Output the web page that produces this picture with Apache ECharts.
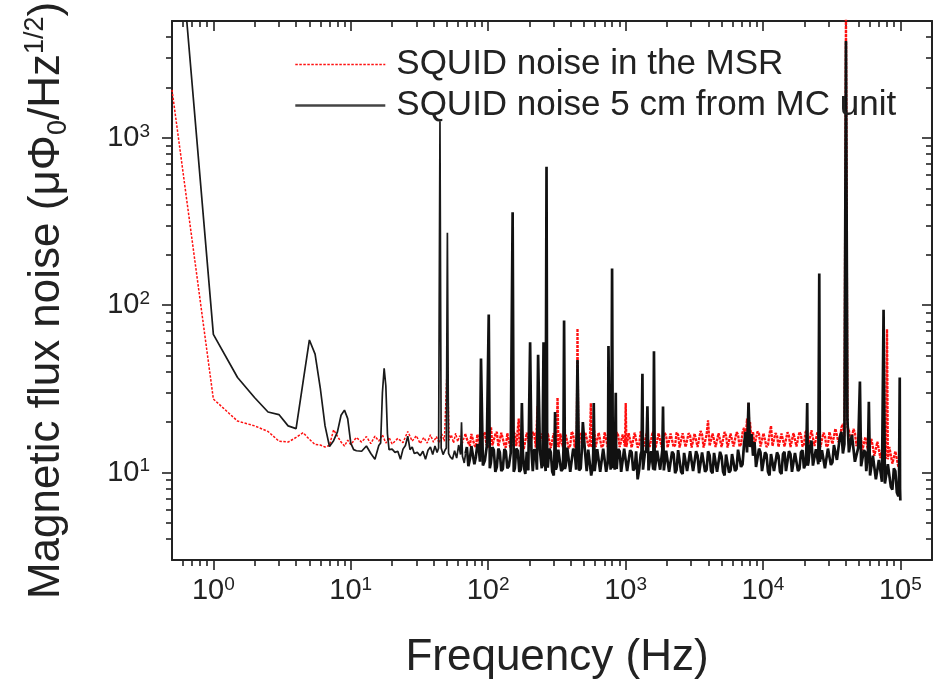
<!DOCTYPE html>
<html><head><meta charset="utf-8">
<script src="https://cdn.jsdelivr.net/npm/echarts@6/dist/echarts.min.js"></script>
<style>html,body{margin:0;padding:0;background:#fff}#c{width:939px;height:684px}</style>
</head><body><div id="c"></div>
<script>
// ---- data (frequency Hz, noise µΦ0/Hz^1/2) ----
const seriesNames = ['SQUID noise in the MSR', 'SQUID noise 5 cm from MC unit'];

const msrLow = [[0.5,1940],[1,27.5],[1.5,20.3],[2,19],[2.5,17.6],[3,15.4],[3.5,15.2],[4,16.2],[4.5,17.3],[5,15.8],[5.5,14.7],[6,14.6],[6.5,14.2],[7,14.5],[7.5,18],[8,16.5],[8.5,15.2],[9,14.4],[9.5,15.6],[10,14.7],[11,16.2],[12,15.2],[13,16.4],[14,14.9],[15,16.5],[16,15.4],[17,16.8],[18,15],[19,16.2],[20,14.8],[22,16],[24,15.1],[26,17.6],[28,15.4],[30,16.6],[32,14.9],[34,16.2],[36,15],[38,16.8],[40,15.2],[42,16.4],[44,15],[46,17],[48,15.4],[50.5,47],[52,15.6],[54,16.8],[56,15],[58,17.2],[60,15.3],[62,16.6],[65,15],[68,17]];

const msrBand = [[71.8,15],[73.6,14.4],[75.5,17],[77.4,17.3],[79.4,14.6],[81.4,14.2],[83.5,16.9],[85.6,17.2],[87.8,14.2],[90,14.5],[92.3,16.8],[94.6,17.4],[97,14.8],[99.5,14.1],[102,16.9],[105,18.6],[107.3,14.5],[110,14.2],[112.8,16.9],[115.7,17.5],[118.6,14.3],[121.6,14.6],[124.7,17.3],[127.9,17.1],[131.2,14.6],[134.5,14.1],[137.9,17.2],[141.4,16.8],[145,14.1],[148.7,14.5],[152.5,17.6],[156.3,17.0],[160.3,14.4],[163.5,14.2],[167,21],[169.5,14.3],[172,14.8],[174.6,17.2],[177.2,16.9],[181.7,13.8],[186.4,14],[191.1,17.3],[196,17.1],[201,14.2],[206,14.5],[211.3,17.5],[216.7,16.9],[222.2,14.1],[229,25],[234,14.4],[239.5,14.2],[245.6,17.1],[251.9,17.4],[258.3,14.1],[264.8,14.7],[271.6,17.2],[278.5,16.8],[285.6,14.0],[292.8,14.3],[300.3,17.2],[307.9,17],[314,14.3],[320,28],[325,14.2],[330,14.6],[335,17.1],[340.4,17.4],[349.1,14.2],[357.9,14.1],[367,16.8],[376.3,17.2],[385.9,14.0],[395.7,14.5],[405.8,17.6],[416.1,16.9],[426.7,14.1],[437.5,14.3],[442,16.4],[447,72.6],[453,14.2],[460,16.6],[471.8,17.2],[483.7,14],[496.1,14.3],[508.7,17.4],[521.6,17.0],[534.9,14.6],[548.5,14.2],[559,26],[567,14.1],[575,14.4],[583,17.1],[591.3,17.8],[606.4,14.2],[621.8,14.3],[637.6,17.3],[653.8,16.9],[670.5,14.1],[687.5,14.6],[705,17.4],[722.9,17.3],[741.3,14.2],[760.1,14.2],[779.5,17.1],[799.3,17.6],[819.6,14.1],[840.4,14.5],[861.8,17.4],[883.7,16.7],[906.2,14.2],[929.2,14.1],[952.9,16.9],[977.1,17],[990,14.3],[1003,26],[1015,14.2],[1027,14.4],[1054,17.2],[1080,16.8],[1108,14.1],[1136,14.2],[1165,17.3],[1194,17.4],[1225,14.1],[1256,14.6],[1288,17.6],[1321,16.5],[1354,14.3],[1389,14],[1424,17.1],[1460,17.2],[1497,14.2],[1535,14.4],[1575,17.5],[1614,16.9],[1656,14.1],[1698,14.2],[1741,17.2],[1785,17.5],[1831,14.2],[1877,14.5],[1925,17.3],[1974,16.6],[2024,14.1],[2075,14.1],[2128,17.1],[2182,17.3],[2238,14.2],[2295,14.6],[2353,17.4],[2413,16.8],[2474,14.1],[2537,14.3],[2602,17.2],[2668,17.6],[2736,14.2],[2805,14.4],[2877,17.2],[2950,16.7],[3025,14.1],[3102,14],[3181,17.1],[3261,17.1],[3345,14.2],[3429,14.5],[3517,17.7],[3606,16.9],[3698,14.1],[3792,14.2],[3888,16.8],[3987,20.5],[4089,14.4],[4192,14.6],[4299,17.1],[4408,16.7],[4521,14.2],[4635,14.1],[4753,17.2],[4874,17.3],[4998,14.2],[5125,14.5],[5256,17.5],[5389,16.6],[5526,14.1],[5666,14.2],[5811,17.1],[5958,17.2],[6110,14.3],[6265,14.6],[6425,17.4],[6588,16.9],[6756,14.3],[6927,14.8],[7104,17.3],[7284,18.5],[7469,15.2],[7659,21],[7760,17],[7860,26],[7950,17.6],[8053,20],[8259,15.6],[8468,17.5],[8684,14.6],[8904,15],[9131,17.6],[9363,17],[9601,14.3],[9845,14.4],[10096,17.2],[10352,16.8],[10616,14.2],[10885,14.6],[11163,17],[11446,19],[11737,14.4],[12035,14.5],[12342,17.2],[12655,16.7],[12978,14.2],[13307,14.2],[13646,17.1],[13993,17.2],[14349,14.3],[14713,14.6],[15088,17.4],[15471,16.5],[15865,14.2],[16268,14.1],[16682,17.2],[17105,17],[17541,14.3],[17986,14.5],[18444,17.5],[18913,16.8],[19394,14.3],[19887,14.8],[20393,17.4],[20911,18],[21443,14.8],[21988,15.2],[22547,17.9],[23120,17.5],[23708,14.4],[24311,14.6],[24929,17.4],[25563,17.2],[26213,14.2],[26879,14.4],[27563,17.3],[28264,16.6],[28983,14.2],[29719,14.6],[30475,17.5],[31250,17.4],[32045,14.8],[32859,15.2],[33695,18.3],[34551,18],[35431,15.2],[36331,15.8],[37255,18.6],[38202,19.5],[39174,16.4],[40200,6000],[41191,18.8],[42238,18],[43313,15.4],[44414,16],[45543,18.2],[46701,17.4],[47889,14.4],[49106,14.3],[50355,16.9],[51635,16.4],[52948,13.6],[54294,13.8],[55675,16.3],[57090,16],[58542,13.2],[60030,13.4],[61557,15.9],[63122,15.6],[64728,12.6],[66373,12.8],[68061,15.3],[69791,15],[71566,12.2],[73385,12.4],[75251,15.1],[77164,14.6],[78600,12.1],[80000,72],[81138,12],[83202,14.2],[85317,14],[87487,11.3],[89710,11.4],[91993,13.4],[94330,13.2],[96730,10.8],[99188,10.5]];

const mcLow = [[0.5,55000],[1,67],[1.5,37],[2,28],[2.5,23],[3,22.2],[3.5,19],[4,18.3],[4.5,35],[5,62],[5.5,51],[6,32],[6.5,19],[7,14.3],[7.5,15.5],[8,17.5],[8.5,22],[9,23.6],[9.5,21],[10,15],[10.5,13.7],[11,13.5],[12,13.4],[13,14.4],[14,13],[15,12],[16,14.5],[16.5,15],[17,30],[17.5,42],[18,33],[18.5,17],[19,13.7],[20,13.8],[21,13.2],[22,13.4],[23,12],[24,13.8],[25,14.5],[26,16.5],[27,13.7],[28,14.2],[29,13],[30.5,13.2],[32,12.6],[33.5,13.4],[35,12],[36.5,13.6],[38,14.2],[39.5,12.8],[41,14.4],[42.5,13.2],[43.6,14],[44.6,1260],[45.5,14],[47,12.8],[48.5,13.6],[49.6,14],[50.5,271],[51.5,13],[53,12.4],[55,12],[57,13.5],[59,12.2],[61,14.6],[63,12.8],[64,20],[65,12.5],[67,11.4],[68.5,13]];

const mcBand = [[70,14.2],[71.8,10.9],[73.6,12],[75.5,14.4],[77.4,14.6],[79.4,11.2],[81.4,12.4],[83.5,14.8],[85.6,13.8],[87.2,11.6],[88.7,48],[91.6,11],[94.6,11.8],[97.8,14.4],[101,88],[102.8,10.6],[104.6,11.4],[107.3,14.2],[110,13.6],[112.8,10.1],[115.7,10.8],[118.6,13.9],[121.6,13.2],[124.7,10.2],[127.9,10.5],[131.2,13.8],[134.5,13.4],[137.9,10.6],[141.4,10.9],[146,13.1],[150.7,360],[153.5,10.1],[156.3,10.6],[160.3,13.9],[164.4,13.5],[168.6,10.1],[172.8,10.4],[176,26],[178.8,13.4],[181.7,10.9],[186.4,9.8],[191.1,13.3],[196,10.3],[202,60],[206.5,13.6],[211.3,10.2],[216.7,13.8],[222.2,13],[226.5,10.4],[231,50.6],[238,13.6],[245.6,10.6],[249,13.1],[253,60],[255.6,10.9],[258.3,11.8],[262,10.2],[266,673],[268.8,13.2],[271.6,10.7],[278.5,13.9],[285.6,13.2],[292.8,10.1],[300.3,9.6],[303.5,12.8],[307,23],[311,10.4],[315.7,10.8],[323.7,13.7],[332,13.6],[340.4,10.2],[349.1,10.5],[353,13.5],[357,81],[362,10.5],[367,11],[376.3,14.1],[385.9,13.8],[395.7,10.1],[405.8,10.3],[416.1,13.9],[426.7,13.2],[437,10.4],[447,47],[459,10.3],[471.8,10.6],[480,13.4],[489,20],[505,13.8],[521.6,10.2],[534.9,13.7],[548.5,13.4],[562.4,9.6],[576.7,10.8],[582,13.2],[587,26],[596,10.2],[606.4,10.4],[621.8,13.8],[637.6,13.5],[653.8,10.1],[670.5,10.2],[687.5,13.9],[705,13.8],[722.9,10.1],[741.3,11.4],[746,13.6],[751,57],[765,13.9],[779.5,10.4],[788,13.6],[798,166],[808,10.6],[819.6,13.9],[834,10.4],[849,30],[855,10.9],[861.8,10.5],[883.7,13.8],[906.2,13.4],[929.2,10.1],[952.9,10.3],[977.1,13.9],[1002,13.7],[1027,10.2],[1054,10.1],[1080,13.6],[1108,13.2],[1136,10.3],[1165,10.6],[1194,13.4],[1225,9.1],[1256,10.4],[1288,12.8],[1307,13.4],[1327,39],[1340,10.4],[1354,10.4],[1389,13.5],[1415,13.1],[1443,24.9],[1470,10.3],[1497,10.2],[1535,13.4],[1575,13.1],[1592,10.4],[1610,53],[1632,10.3],[1656,10.5],[1698,13.5],[1741,13.4],[1785,10.4],[1831,10.6],[1852,13.6],[1874,24.8],[1900,10.3],[1925,10.3],[1974,13.5],[2024,13.2],[2075,10.1],[2128,10],[2182,13.3],[2238,12.9],[2295,9.9],[2353,10.4],[2413,13.6],[2474,13.5],[2537,10.1],[2602,9.8],[2668,13.1],[2736,12.8],[2805,10.2],[2877,10.3],[2950,13.4],[3025,13.3],[3102,10.2],[3181,10.1],[3261,13.4],[3345,12.6],[3429,9.9],[3517,9.7],[3606,13.2],[3698,13],[3792,10.1],[3888,10.4],[3987,13.4],[4089,12.7],[4192,10.2],[4299,9.9],[4408,13.1],[4521,13.2],[4635,10.1],[4753,10.2],[4874,13.3],[4998,12.5],[5125,10.1],[5256,9.6],[5389,12.8],[5526,12.9],[5666,10],[5811,10.3],[5958,12.9],[6110,13.1],[6265,10.2],[6425,10.5],[6588,13.7],[6756,13.4],[6927,10.8],[7104,11.2],[7284,14.8],[7469,17.5],[7660,13.2],[7854,26.2],[8053,14.2],[8259,17],[8468,12.6],[8684,15.2],[8904,10.8],[9131,11],[9363,13.9],[9601,13.2],[9845,10.2],[10096,10.1],[10352,13.2],[10616,12.8],[10885,10.1],[11163,9.6],[11446,12.9],[11737,13],[12035,10.2],[12342,10.3],[12655,13.2],[12978,12.6],[13307,10.1],[13646,9.8],[13993,12.9],[14349,13.3],[14713,10.2],[15088,10.4],[15471,13.4],[15865,12.9],[16268,10.1],[16682,10],[17105,13.1],[17541,13.1],[17986,10.2],[18444,10.5],[18913,13.2],[19394,13.6],[19887,10.6],[20393,11.2],[20700,13.8],[21000,26],[21200,11],[21443,11.5],[21988,14.2],[22547,15.5],[23120,11],[23708,11],[24311,13.8],[24929,14],[25300,11.2],[25700,155],[25950,11.6],[26213,11.4],[26879,13.6],[27563,13.3],[28264,10.6],[28983,10.8],[29719,13.9],[30475,14],[31250,11.1],[32045,11.5],[32859,14.6],[33695,15],[34551,11.9],[35431,12.2],[36331,16.4],[37255,17.5],[38202,13],[39174,14.8],[40200,3800],[41191,20.7],[42238,13.2],[43313,13.5],[44414,16.8],[45543,17],[46701,11.6],[47889,11.8],[49300,14],[50800,35],[51800,10.9],[52948,10.8],[54294,13.6],[55675,13.2],[56500,10.2],[57300,10.4],[58100,12.8],[59000,26.5],[60200,9.6],[61557,9.8],[63122,12.6],[64728,12.4],[66373,9.1],[68061,9.2],[69791,11.9],[71566,11.8],[73500,8.8],[75500,94],[77200,8.6],[79127,8.5],[81138,11.2],[83202,11],[85317,8.2],[87487,7.9],[89710,10.6],[91993,10.2],[94330,7.6],[96730,7.2],[97900,9.8],[99000,37],[99500,8],[100000,6.8]];

const xRange = [0.5, 170000];
const yRange = [3, 5000];
const xMajorTicks = [1, 10, 100, 1000, 10000, 100000];
const xMinorTicks = [0.6,0.7,0.8,0.9, 2,3,4,5,6,7,8,9, 20,30,40,50,60,70,80,90, 200,300,400,500,600,700,800,900, 2000,3000,4000,5000,6000,7000,8000,9000, 20000,30000,40000,50000,60000,70000,80000,90000];
const yMajorTicks = [10, 100, 1000];
const yMinorTicks = [4,5,6,7,8,9, 20,30,40,50,60,70,80,90, 200,300,400,500,600,700,800,900, 2000,3000,4000];

const FONT = "'Liberation Sans', Arial, Helvetica, sans-serif";
const INK = '#222';
const lg = Math.log10;

function powLabel(v) {
  const e = Math.round(Math.log10(v));
  if (Math.abs(v / Math.pow(10, e) - 1) > 1e-6) return '';
  return '{b|10}{s|' + e + '}';
}
const labelRich = {
  b: { fontSize: 29, fontFamily: FONT, color: INK, lineHeight: 32 },
  s: { fontSize: 19, fontFamily: FONT, color: INK, lineHeight: 20, verticalAlign: 'top' }
};

// main (data) axes: log scale, labels at the decades
function dataAxis(kind, pos, extra) {
  const range = kind === 'x' ? xRange : yRange;
  const majors = kind === 'x' ? xMajorTicks : yMajorTicks;
  return Object.assign({
    type: 'log', logBase: 10, min: range[0], max: range[1], position: pos, gridIndex: 0,
    axisLine: { show: true, onZero: false, lineStyle: { color: INK, width: 2 } },
    axisTick: { show: false }, minorTick: { show: false }, splitLine: { show: false },
    axisLabel: { show: true, customValues: majors, formatter: powLabel, rich: labelRich,
                 margin: kind === 'x' ? 15 : 22 }
  }, extra || {});
}
// tick-only axes: same range in decades, carry the major / minor tick marks
function tickAxis(kind, pos, ticks, len, inside, showLine) {
  const range = kind === 'x' ? xRange : yRange;
  return {
    type: 'value', min: lg(range[0]), max: lg(range[1]), position: pos, gridIndex: 0,
    axisLine: { show: showLine, onZero: false, lineStyle: { color: INK, width: 2 } },
    axisTick: { show: true, inside: inside, length: len, customValues: ticks.map(lg),
                lineStyle: { color: INK, width: 1.6 } },
    minorTick: { show: false }, splitLine: { show: false }, axisLabel: { show: false }
  };
}

const chart = echarts.init(document.getElementById('c'), null, { renderer: 'canvas' });
chart.setOption({
  animation: false,
  backgroundColor: '#fff',
  grid: { left: 172, right: 7, top: 21, bottom: 124, containLabel: false, outerBoundsMode: 'none' },
  legend: {
    orient: 'vertical', left: 294, top: 47, padding: 0,
    itemWidth: 90, itemHeight: 14, itemGap: 6,
    itemStyle: { opacity: 0 },
    data: [
      { name: seriesNames[0], lineStyle: { width: 1.5 } },
      { name: seriesNames[1], lineStyle: { width: 2.6, color: '#444' } }
    ],
    textStyle: { fontSize: 35, fontFamily: FONT, color: INK, padding: [0, 0, 0, 6], lineHeight: 35 }
  },
  xAxis: [
    dataAxis('x', 'bottom', {
      name: 'Frequency (Hz)', nameLocation: 'middle', nameGap: 76,
      nameTextStyle: { fontSize: 44, fontFamily: FONT, color: INK, padding: [0, 0, 0, 10] }
    }),
    tickAxis('x', 'bottom', xMajorTicks, 10, false, false),
    tickAxis('x', 'bottom', xMinorTicks, 6, false, false),
    tickAxis('x', 'top', xMajorTicks, 10, true, true),
    tickAxis('x', 'top', xMinorTicks, 6, true, false)
  ],
  yAxis: [
    dataAxis('y', 'left', {
      name: '{t|Magnetic flux noise (μΦ}{sb|0}{t|/Hz}{sp|1/2}{t|)}',
      nameLocation: 'middle', nameGap: 100, nameRotate: 90,
      nameTextStyle: {
        fontFamily: FONT, color: INK, padding: [0, 20, 0, 0],
        rich: {
          t: { fontSize: 44, fontFamily: FONT, color: INK, lineHeight: 50 },
          sb: { fontSize: 27, fontFamily: FONT, color: INK, lineHeight: 30, verticalAlign: 'bottom' },
          sp: { fontSize: 27, fontFamily: FONT, color: INK, lineHeight: 28, verticalAlign: 'top' }
        }
      }
    }),
    tickAxis('y', 'left', yMajorTicks, 10, false, false),
    tickAxis('y', 'left', yMinorTicks, 6, false, false),
    tickAxis('y', 'right', yMajorTicks, 10, true, true),
    tickAxis('y', 'right', yMinorTicks, 6, true, false)
  ],
  series: [
    {
      name: seriesNames[0], type: 'line', xAxisIndex: 0, yAxisIndex: 0,
      data: msrLow, showSymbol: false, symbol: 'none',
      lineStyle: { color: '#ff1010', width: 1.5, type: [2.5, 1.5] },
      itemStyle: { color: '#ff1010' }, z: 2
    },
    {
      name: seriesNames[0], type: 'line', xAxisIndex: 0, yAxisIndex: 0,
      data: [msrLow[msrLow.length - 1]].concat(msrBand), showSymbol: false, symbol: 'none',
      lineStyle: { color: '#ff1010', width: 2.3, type: [3, 1] },
      itemStyle: { color: '#ff1010' }, z: 2
    },
    {
      name: seriesNames[1], type: 'line', xAxisIndex: 0, yAxisIndex: 0,
      data: mcLow, showSymbol: false, symbol: 'none',
      lineStyle: { color: '#1a1a1a', width: 1.7 },
      itemStyle: { color: '#1a1a1a' }, z: 3
    },
    {
      name: seriesNames[1], type: 'line', xAxisIndex: 0, yAxisIndex: 0,
      data: [mcLow[mcLow.length - 1]].concat(mcBand), showSymbol: false, symbol: 'none',
      lineStyle: { color: '#111', width: 2.7 },
      itemStyle: { color: '#111' }, z: 3
    }
  ]
});
</script>
</body></html>
